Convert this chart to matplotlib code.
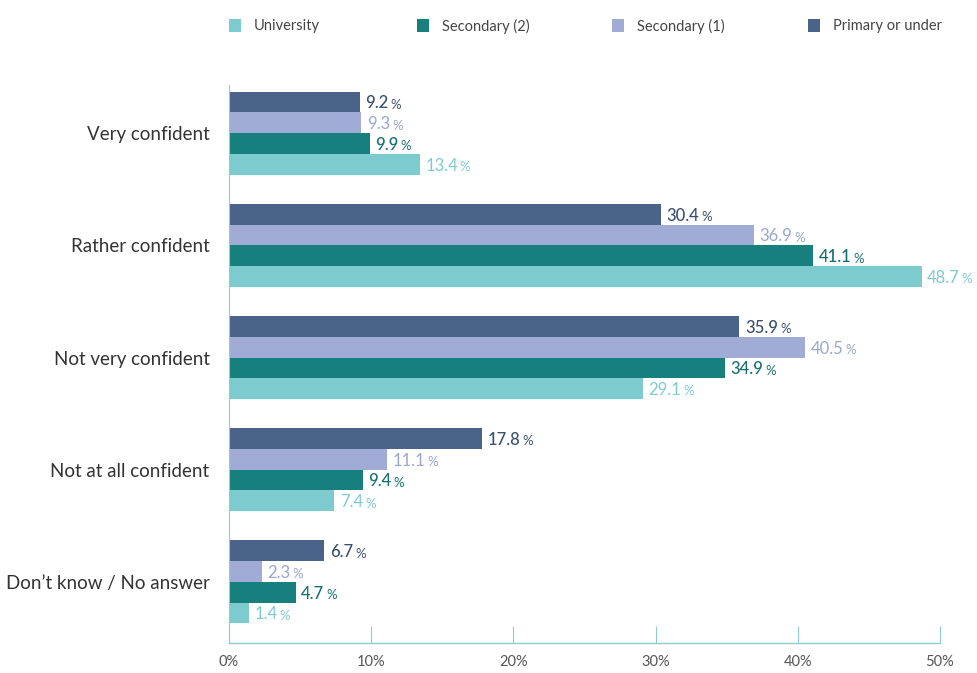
import numpy as np
import matplotlib.pyplot as plt
from matplotlib.patches import Rectangle

plt.rcParams['font.family'] = ['Lato', 'DejaVu Sans']

categories = ['Very confident', 'Rather confident', 'Not very confident',
              'Not at all confident', 'Don\u2019t know / No answer']
series = ['Primary or under', 'Secondary (1)', 'Secondary (2)', 'University']
primary = [9.2, 30.4, 35.9, 17.8, 6.7]
secondary1 = [9.3, 36.9, 40.5, 11.1, 2.3]
secondary2 = [9.9, 41.1, 34.9, 9.4, 4.7]
university = [13.4, 48.7, 29.1, 7.4, 1.4]
ticks = [0, 10, 20, 30, 40, 50]

bar_colors = ['#4a6389', '#a0acd6', '#17807f', '#7ecbcf']
text_colors = ['#3c4f6e', '#9aa6cf', '#17706f', '#7ecbcf']
axis_color = '#8fcbcf'

fig = plt.figure(figsize=(9.78, 6.73), dpi=100)
ax = fig.add_axes([229 / 978, 1 - 643 / 673, 711 / 978, 558 / 673])

y = np.arange(len(categories))
h = 0.185
values = [primary, secondary1, secondary2, university]
bars = []
for i, vals in enumerate(values):
    pos = y - 1.5 * h + i * h
    ax.barh(pos, vals, height=h, color=bar_colors[i], linewidth=0)
    bars.append((pos, vals))

ax.set_xlim(0, 50)
ax.set_ylim(4.545, -0.43)

for s in ['top', 'right']:
    ax.spines[s].set_visible(False)
ax.spines['left'].set_color(axis_color)
ax.spines['bottom'].set_color(axis_color)
ax.spines['left'].set_linewidth(0.8)
ax.spines['bottom'].set_linewidth(1.0)

ax.set_xticks(ticks)
ax.set_xticklabels([f'{t}%' for t in ticks], fontsize=10.5, color='#555555')
ax.tick_params(axis='x', direction='in', length=12, color=axis_color, pad=9)
ax.set_yticks(y)
ax.set_yticklabels(categories, fontsize=13.5, color='#333333')
ax.tick_params(axis='y', length=0, pad=14)

# value labels: number plus a smaller percent sign
fig.canvas.draw()
renderer = fig.canvas.get_renderer()
for i, (pos, vals) in enumerate(bars):
    for p, v in zip(pos, vals):
        weight = 'normal' if i in (1, 3) else 'medium'
        t = ax.annotate(f'{v:.1f}', xy=(v, p), xytext=(4, -1),
                        textcoords='offset points', va='center', ha='left',
                        fontsize=12, color=text_colors[i], weight=weight,
                        annotation_clip=False)
        bb = t.get_window_extent(renderer)
        xd = ax.transData.inverted().transform((bb.x1 + 2, 0))[0]
        ax.annotate('%', xy=(xd, p), xytext=(0, -2),
                    textcoords='offset points', va='center', ha='left',
                    fontsize=9.5, color=text_colors[i],
                    annotation_clip=False)

# legend drawn across the top
legend_order = ['University', 'Secondary (2)', 'Secondary (1)', 'Primary or under']
legend_colors = ['#7ecbcf', '#17807f', '#a0acd6', '#4a6389']
legend_x = [229, 417, 612, 808]
for name, c, lx in zip(legend_order, legend_colors, legend_x):
    fig.add_artist(Rectangle((lx / 978, 1 - 32 / 673), 12 / 978, 13 / 673,
                             transform=fig.transFigure, color=c, linewidth=0))
    fig.text((lx + 25) / 978, 1 - 26 / 673, name, fontsize=10.5,
             color='#444444', va='center', ha='left')

fig.savefig('out.png', dpi=100, facecolor='white')
